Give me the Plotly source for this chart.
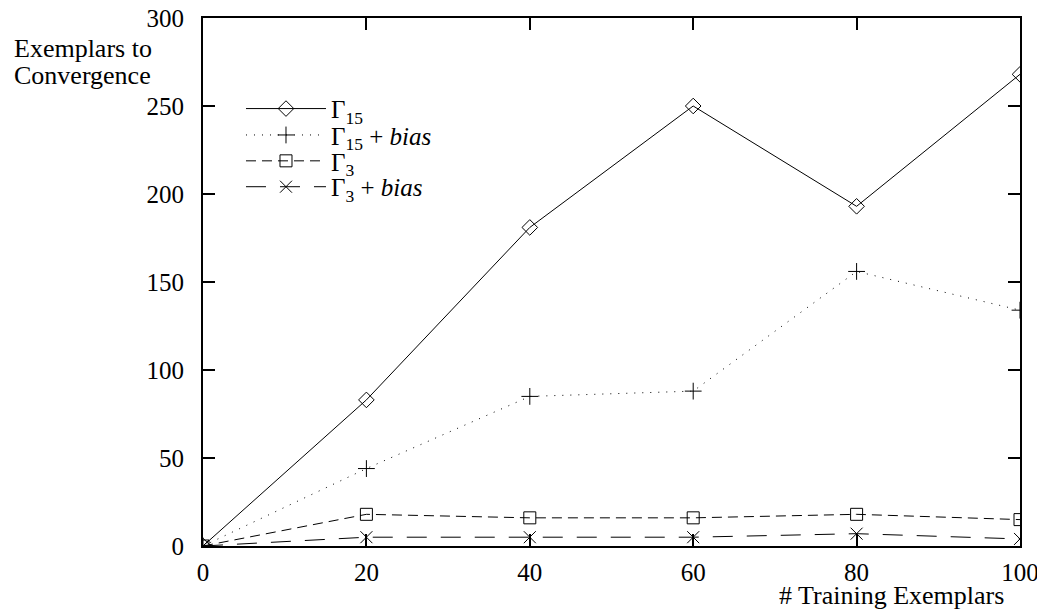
import plotly.graph_objects as go

# Data
training_exemplars = [0, 20, 40, 60, 80, 100]
g15 = [0, 83, 181, 250, 193, 268]
g15_bias = [0, 44, 85, 88, 156, 134]
g3 = [0, 18, 16, 16, 18, 15]
g3_bias = [0, 5, 5, 5, 7, 4]

x_ticks = [0, 20, 40, 60, 80, 100]
y_ticks = [0, 50, 100, 150, 200, 250, 300]

FONT = "Liberation Serif, Times New Roman, serif"

series = [
    ("Γ<sub>15</sub>", g15, "solid", "diamond-open"),
    ("Γ<sub>15</sub> + <i>bias</i>", g15_bias, "1px,7px", "cross-thin-open"),
    ("Γ<sub>3</sub>", g3, "10px,6px", "square-open"),
    ("Γ<sub>3</sub> + <i>bias</i>", g3_bias, "20px,14px", "x-thin-open"),
]

# one small legend per entry so the rows can sit exactly where the reference has them
legend_rows = [0.828, 0.778, 0.729, 0.680]

fig = go.Figure()
for i, (name, vals, dash, sym) in enumerate(series):
    fig.add_trace(go.Scatter(
        x=training_exemplars, y=vals, name=name, mode="lines+markers",
        line=dict(color="black", width=1, dash=dash),
        marker=dict(symbol=sym, size=12, color="black",
                    line=dict(color="black", width=1)),
        legend="legend" if i == 0 else f"legend{i + 1}",
    ))

axis_common = dict(
    showline=True, linecolor="black", linewidth=2, mirror="ticks",
    ticks="inside", ticklen=12, tickwidth=2, tickcolor="black",
    showgrid=False, zeroline=False, automargin=False,
    ticklabeloverflow="allow",
    tickfont=dict(family=FONT, size=25, color="black"),
)

fig.update_xaxes(range=[0, 100], tickvals=x_ticks, ticklabelstandoff=3, **axis_common)
fig.update_yaxes(range=[0, 300], tickvals=y_ticks, ticklabelstandoff=12, **axis_common)

legends = {}
for i, y in enumerate(legend_rows):
    key = "legend" if i == 0 else f"legend{i + 1}"
    legends[key] = dict(x=0.0465, y=y, xanchor="left", yanchor="middle",
                        bgcolor="rgba(0,0,0,0)", itemwidth=80,
                        font=dict(family=FONT, size=25, color="black"))

fig.update_layout(
    width=1045, height=610,
    # the page body adds an 8px offset, margins compensate for it
    margin=dict(l=195, r=33, t=10, b=72),
    paper_bgcolor="white", plot_bgcolor="white",
    font=dict(family=FONT, size=25, color="black"),
    showlegend=True,
    annotations=[
        dict(text="Exemplars to", xref="paper", yref="paper",
             x=-0.2338, y=0.943, xanchor="left", yanchor="middle",
             showarrow=False, font=dict(family=FONT, size=26)),
        dict(text="Convergence", xref="paper", yref="paper",
             x=-0.2338, y=0.892, xanchor="left", yanchor="middle",
             showarrow=False, font=dict(family=FONT, size=26)),
        dict(text="# Training Exemplars", xref="paper", yref="paper",
             x=0.843, y=-0.093, xanchor="center", yanchor="middle",
             showarrow=False, font=dict(family=FONT, size=26)),
    ],
    **legends,
)

fig.write_html("out.html")
